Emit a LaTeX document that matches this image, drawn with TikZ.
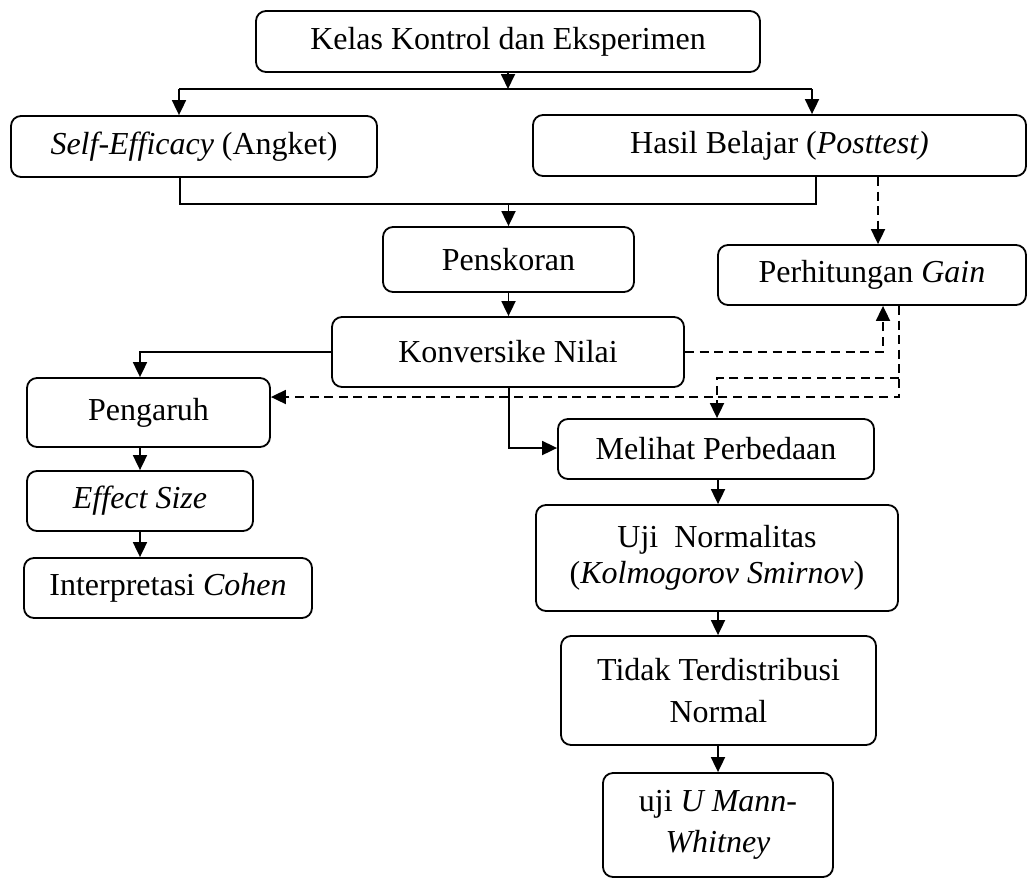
\documentclass[tikz,border=0pt]{standalone}
\usepackage{fontspec}
\setmainfont{Liberation Serif}
\usetikzlibrary{arrows.meta}
\begin{document}
\begin{tikzpicture}[x=0.5pt,y=-0.5pt,
  box/.style={draw, rounded corners=5pt, line width=0.9pt, inner sep=0pt, align=center,
    font=\fontsize{16}{18}\selectfont},
  twoline/.style={font=\fontsize{16}{20.8}\selectfont},
  arr/.style={line width=0.9pt, -{Triangle[length=7.5pt,width=7pt]}},
  ln/.style={line width=0.9pt},
  dsh/.style={dash pattern=on 4.5pt off 2.8pt}]
\useasboundingbox (0,0) rectangle (1028,879);

\node[box, minimum width=252pt, minimum height=30.5pt] (kelas) at (508,41.5) {Kelas Kontrol dan Eksperimen};
\node[box, minimum width=183pt, minimum height=30.5pt] (self) at (194,146.5) {\textit{Self-Efficacy} (Angket)};
\node[box, minimum width=246.5pt, minimum height=30.5pt] (hasil) at (779.5,145.5) {Hasil Belajar (\textit{Posttest)}};
\node[box, minimum width=125.5pt, minimum height=32.5pt] (pensk) at (508.5,259.5) {Penskoran};
\node[box, minimum width=154pt, minimum height=30pt] (gain) at (872,275) {Perhitungan \textit{Gain}};
\node[box, minimum width=176pt, minimum height=35pt] (konv) at (508,352) {Konversike Nilai};
\node[box, minimum width=121.5pt, minimum height=34.5pt] (peng) at (148.5,412.5) {Pengaruh};
\node[box, minimum width=158pt, minimum height=30pt] (meli) at (716,449) {Melihat Perbedaan};
\node[box, minimum width=113pt, minimum height=30pt] (eff) at (140,501) {\textit{Effect Size}};
\node[box, minimum width=144pt, minimum height=30pt] (interp) at (168,588) {Interpretasi \textit{Cohen}};
\node[box, minimum width=181pt, minimum height=53pt] (uji) at (717,558) {Uji~~Normalitas\\(\textit{Kolmogorov Smirnov})};
\node[box, twoline, minimum width=157.5pt, minimum height=54.5pt] (tidak) at (718.5,690.5) {Tidak Terdistribusi\\Normal};
\node[box, twoline, minimum width=115pt, minimum height=52pt] (mann) at (718,825) {uji \textit{U Mann-}\\\textit{Whitney}};

% top split
\coordinate (t1) at (179,89);
\coordinate (t2) at (812,89);
\draw[arr] (kelas.south) -- (kelas.south |- t1);
\draw[ln] (t1) -- (t2);
\draw[arr] (t1) -- (t1 |- self.north);
\draw[arr] (t2) -- (t2 |- hasil.north);

% merge to Penskoran
\coordinate (b1) at (180,204);
\coordinate (b2) at (816,204);
\draw[ln] (b1 |- self.south) -- (b1) -- (b2) -- (b2 |- hasil.south);
\draw[arr] (pensk.north |- b1) -- (pensk.north);

% Hasil -> Gain (dashed)
\coordinate (gx) at (878,210);
\draw[arr,dsh] (gx |- hasil.south) -- (gx |- gain.north);

% Penskoran -> Konversi
\draw[arr] (pensk.south) -- (pensk.south |- konv.north);

% Konversi -> Pengaruh
\coordinate (pl) at (140,352);
\draw[arr] (konv.west) -- (pl) -- (pl |- peng.north);

% Konversi -> Melihat
\coordinate (kb) at (509,448);
\draw[arr] (kb |- konv.south) -- (kb) -- (kb -| meli.west);

% Konversi -> Gain (dashed)
\coordinate (kr) at (883,352);
\draw[arr,dsh] (konv.east) -- (kr) -- (kr |- gain.south);

% Gain -> Pengaruh (dashed)
\coordinate (gr) at (899,397);
\draw[arr,dsh] (gr |- gain.south) -- (gr) -- (gr -| peng.east);

% Gain -> Melihat (dashed)
\coordinate (gm1) at (899,378);
\coordinate (gm2) at (717,378);
\draw[arr,dsh] (gm1) -- (gm2) -- (gm2 |- meli.north);

% right column
\coordinate (rc) at (718,500);
\draw[arr] (rc |- meli.south) -- (rc |- uji.north);
\draw[arr] (rc |- uji.south) -- (rc |- tidak.north);
\draw[arr] (rc |- tidak.south) -- (rc |- mann.north);

% left column
\draw[arr] (pl |- peng.south) -- (pl |- eff.north);
\draw[arr] (pl |- eff.south) -- (pl |- interp.north);
\end{tikzpicture}
\end{document}
